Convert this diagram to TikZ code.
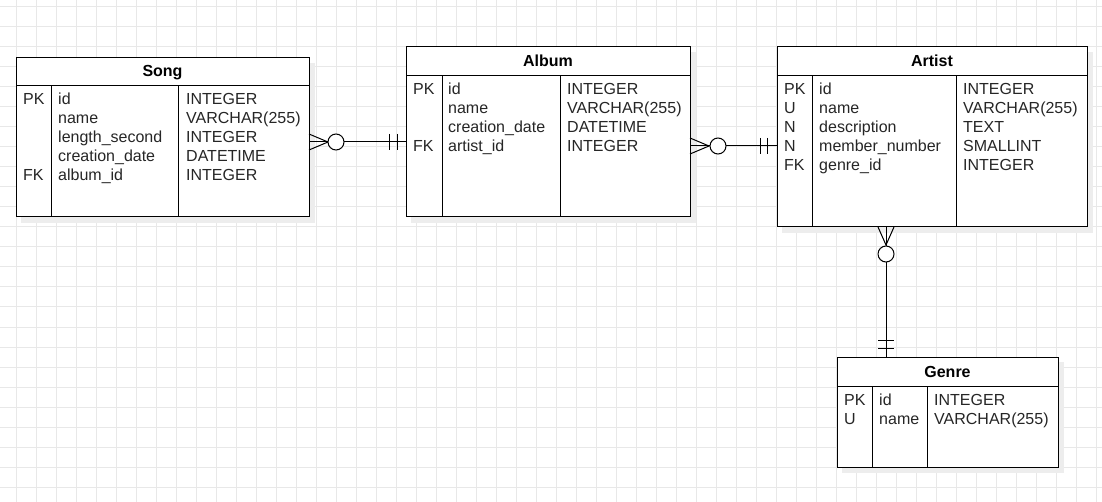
\documentclass[tikz,border=0pt]{standalone}
\usepackage{fontspec}
\setmainfont{Liberation Sans}
\usetikzlibrary{calc}
\begin{document}
\begin{tikzpicture}[x=1pt,y=-1pt,
  gridl/.style={draw=black!9,line width=1pt},
  tbl/.style={draw=black,line width=1pt,fill=white,inner sep=0pt,outer sep=0pt,anchor=north west},
  shd/.style={fill=black!7,draw=none},
  rule/.style={draw=black,line width=1pt},
  col/.style={anchor=base west,inner sep=0pt,align=left,text=black!85,font=\fontsize{16}{19}\selectfont},
  hdr/.style={anchor=base,inner sep=0pt,text=black,font=\fontsize{16}{19}\selectfont\bfseries},
  conn/.style={draw=black,line width=1pt},
  ring/.style={circle,draw=black,line width=1pt,fill=white,minimum size=16pt,inner sep=0pt}]
\useasboundingbox (0,0) rectangle (1102,502);
\fill[white] (0,0) rectangle (1102,502);
% grid
\foreach \x in {16,36,...,1096} \draw[gridl] (\x,0) -- (\x,502);
\foreach \y in {7,27,...,497} \draw[gridl] (0,\y) -- (1102,\y);
% shadows
\fill[shd] (21,63) rectangle (315,223);
\fill[shd] (411,52) rectangle (696,223);
\fill[shd] (782,52) rectangle (1093,233);
\fill[shd] (842,362) rectangle (1064,473);
% Song
\node[tbl,minimum width=293pt,minimum height=159pt] (song) at (16,58) {};
\draw[rule] (song.west |- 0,86) -- (song.east |- 0,86);
\draw[rule] (51,86) -- (song.south -| 51,0);
\draw[rule] (178,86) -- (song.south -| 178,0);
\node[hdr] (songT) at (162.5,77) {Song};
\node[col] (songK) at (23,181) {PK\\\mbox{}\\\mbox{}\\\mbox{}\\FK};
\node[col] (songN) at (58,181) {id\\name\\length\_second\\creation\_date\\album\_id};
\node[col] (songY) at (186,181) {INTEGER\\VARCHAR(255)\\INTEGER\\DATETIME\\INTEGER};
% Album
\node[tbl,minimum width=284pt,minimum height=170pt] (album) at (406,47) {};
\draw[rule] (album.west |- 0,76) -- (album.east |- 0,76);
\draw[rule] (442,76) -- (album.south -| 442,0);
\draw[rule] (560,76) -- (album.south -| 560,0);
\node[hdr] (albumT) at (548,67) {Album};
\node[col] (albumK) at (413,152) {PK\\\mbox{}\\\mbox{}\\FK};
\node[col] (albumN) at (448,152) {id\\name\\creation\_date\\artist\_id};
\node[col] (albumY) at (567,152) {INTEGER\\VARCHAR(255)\\DATETIME\\INTEGER};
% Artist
\node[tbl,minimum width=310pt,minimum height=180pt] (artist) at (777,47) {};
\draw[rule] (artist.west |- 0,76) -- (artist.east |- 0,76);
\draw[rule] (812,76) -- (artist.south -| 812,0);
\draw[rule] (956,76) -- (artist.south -| 956,0);
\node[hdr] (artistT) at (932,67) {Artist};
\node[col] (artistK) at (784,171) {PK\\U\\N\\N\\FK};
\node[col] (artistN) at (819,171) {id\\name\\description\\member\_number\\genre\_id};
\node[col] (artistY) at (963,171) {INTEGER\\VARCHAR(255)\\TEXT\\SMALLINT\\INTEGER};
% Genre
\node[tbl,minimum width=221pt,minimum height=110pt] (genre) at (837,357) {};
\draw[rule] (genre.west |- 0,386) -- (genre.east |- 0,386);
\draw[rule] (872,386) -- (genre.south -| 872,0);
\draw[rule] (927,386) -- (genre.south -| 927,0);
\node[hdr] (genreT) at (947.5,377) {Genre};
\node[col] (genreK) at (844,424) {PK\\U};
\node[col] (genreN) at (879,424) {id\\name};
\node[col] (genreY) at (934,424) {INTEGER\\VARCHAR(255)};
% Song -- Album
\coordinate (c1a) at (song.east |- 0,142);
\coordinate (c1b) at (album.west |- 0,142);
\draw[conn] (c1a) -- (c1b);
\draw[conn] ($(c1a)+(0,-8)$) -- ($(c1a)+(19,0)$) -- ($(c1a)+(0,8)$);
\node[ring] (r1) at ($(c1a)+(27,0)$) {};
\draw[conn] ($(c1b)+(-17,-8)$) -- ($(c1b)+(-17,8)$);
\draw[conn] ($(c1b)+(-9,-8)$) -- ($(c1b)+(-9,8)$);
% Album -- Artist
\coordinate (c2a) at (album.east |- 0,146);
\coordinate (c2b) at (artist.west |- 0,146);
\draw[conn] (c2a) -- (c2b);
\draw[conn] ($(c2a)+(0,-8)$) -- ($(c2a)+(19,0)$) -- ($(c2a)+(0,8)$);
\node[ring] (r2) at ($(c2a)+(28,0)$) {};
\draw[conn] ($(c2b)+(-17,-8)$) -- ($(c2b)+(-17,8)$);
\draw[conn] ($(c2b)+(-10,-8)$) -- ($(c2b)+(-10,8)$);
% Artist -- Genre
\coordinate (c3a) at (artist.south -| 886,0);
\coordinate (c3b) at (genre.north -| 886,0);
\draw[conn] (c3a) -- (c3b);
\draw[conn] ($(c3a)+(-8,0)$) -- ($(c3a)+(0,18)$) -- ($(c3a)+(8,0)$);
\node[ring] (r3) at ($(c3a)+(0,27)$) {};
\draw[conn] ($(c3b)+(-8,-17)$) -- ($(c3b)+(8,-17)$);
\draw[conn] ($(c3b)+(-8,-9)$) -- ($(c3b)+(8,-9)$);
\end{tikzpicture}
\end{document}
